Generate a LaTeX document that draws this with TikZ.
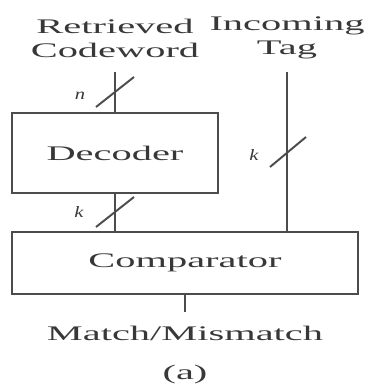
\documentclass[tikz,border=0pt]{standalone}
\usepackage{fontspec}
\setmainfont{Liberation Serif}
\usetikzlibrary{positioning}
\definecolor{ink}{gray}{0.3}
\definecolor{txtink}{gray}{0.22}

\begin{document}
\begin{tikzpicture}[
            x = 0.02cm, y = -0.02cm, % one unit per pixel
            line width = 1.1pt,
            draw = ink,
            every node/.style = {text = txtink, inner sep = 0pt},
            txt/.style = {font = \fontsize{11.8}{13.6}\selectfont, xscale = 1.95, align = center},
            lbl/.style = {font = \fontsize{9}{10}\selectfont\itshape, xscale = 1.3},
            block/.style = {draw = ink, line width = 1.1pt, rectangle, txt}
        ]

        \useasboundingbox (0,0) rectangle (365,385);

        % inputs
        \node[txt] (cw) at (115,38) {Retrieved\\Codeword};
        \node[txt] (tag) at (287,38) {Incoming\\Tag};
        \coordinate (cwin) at (115,72);
        \coordinate (tagin) at (287,72);

        % blocks
        \node[block, minimum width = 4.12cm, minimum height = 1.6cm, xscale = 1/1.95] (dec) at (115,153) {\scalebox{1.95}[1]{Decoder}};
        \node[block, minimum width = 6.92cm, minimum height = 1.24cm, xscale = 1/1.95] (comp) at (185,263) {\scalebox{1.95}[1]{Comparator}};

        % output
        \coordinate (out) at (185,312);
        \node[txt] (match) at (185,333) {Match/Mismatch};
        \node[txt] (cap) [below = 0.45cm of match] {(a)};

        % connectors
        \draw (cwin) -- (dec.north);
        \draw (tagin) -- (tagin |- comp.north);
        \draw (dec.south) -- (dec.south |- comp.north);
        \draw (comp.south) -- (out);

        % bus widths
        \coordinate (m1) at (115,92);
        \coordinate (m2) at (287,152);
        \coordinate (m3) at (115,212);
        \draw (m1) ++(-19,15) -- ++(38,-30);
        \draw (m2) ++(-17,15) -- ++(36,-30);
        \draw (m3) ++(-19,15) -- ++(38,-30);
        \node[lbl] (n) at (80,96) {n};
        \node[lbl] (k1) at (254,155) {k};
        \node[lbl] (k2) at (79,212) {k};
\end{tikzpicture}
\end{document}
